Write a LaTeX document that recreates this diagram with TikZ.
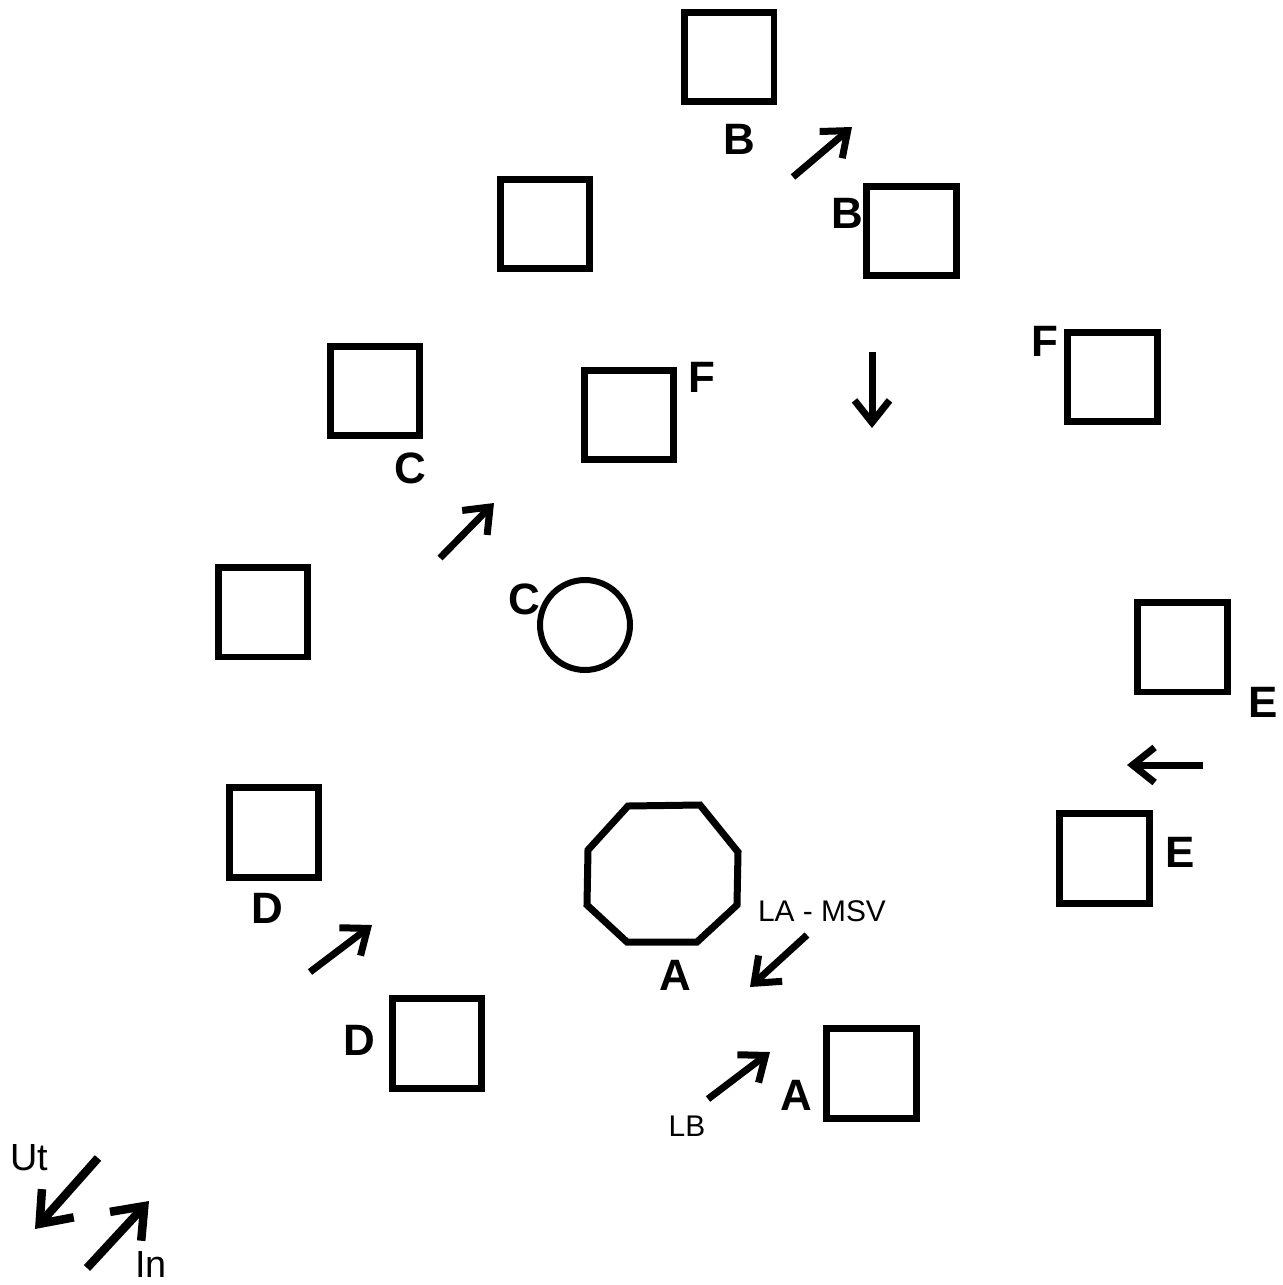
\documentclass[tikz,border=0pt]{standalone}
\usepackage{fontspec}
\setmainfont{Liberation Sans}
\usetikzlibrary{arrows.meta}
\begin{document}
\begin{tikzpicture}[x=0.02cm,y=-0.02cm,
  box/.style={draw=black,line width=0.14cm,minimum size=1.8cm,inner sep=0pt,fill=white},
  ring/.style={draw=black,line width=0.12cm,circle,minimum size=1.8cm,inner sep=0pt},
  lbl/.style={inner sep=0pt,font=\fontsize{25}{30}\selectfont\bfseries},
  small/.style={inner sep=0pt,font=\fontsize{17}{20}\selectfont},
  mid/.style={inner sep=0pt,font=\fontsize{21.5}{25}\selectfont},
  arr/.style={line width=0.14cm,-{Straight Barb[length=0.44cm,width=0.7cm,line cap=butt,line join=miter]}},
  bigarr/.style={line width=0.17cm,-{Straight Barb[length=0.55cm,width=0.85cm,line cap=butt,line join=miter]}}]
\useasboundingbox (0,0) rectangle (1282,1285);
% squares
\node[box] (s1) at (729,57) {};
\node[box] (s2) at (911,231) {};
\node[box] (s3) at (545,224) {};
\node[box] (s4) at (1112,377) {};
\node[box] (s5) at (629,415) {};
\node[box] (s6) at (375,391) {};
\node[box] (s7) at (263,612) {};
\node[box] (s8) at (1182,647) {};
\node[box] (s9) at (1104,858) {};
\node[box] (s10) at (274,832) {};
\node[box] (s11) at (437,1043) {};
\node[box] (s12) at (871,1073) {};
% circle
\node[ring] (circ) at (585,625) {};
% octagon
\draw[line width=0.14cm,line join=miter] (628,806) -- (700,805) -- (738,852) -- (737,905) -- (697,942) -- (627,942) -- (587,905) -- (588,850) -- cycle;
% labels
\node[lbl] (lB1) at (739,139) {B};
\node[lbl] (lB2) at (847,213) {B};
\node[lbl] (lF1) at (702,377) {F};
\node[lbl] (lF2) at (1045,341) {F};
\node[lbl] (lC1) at (410,468) {C};
\node[lbl] (lC2) at (524,599) {C};
\node[lbl] (lE1) at (1263,702) {E};
\node[lbl] (lE2) at (1180,852) {E};
\node[lbl] (lD1) at (267,908) {D};
\node[lbl] (lD2) at (359,1040) {D};
\node[lbl] (lA1) at (675,975) {A};
\node[lbl] (lA2) at (796,1095) {A};
\node[small] (lLA) at (822,911) {LA - MSV};
\node[small] (lLB) at (687,1126) {LB};
\node[mid] (lUt) at (29,1158) {Ut};
\node[mid] (lIn) at (151,1264) {In};
% arrow end points
\coordinate (aB0) at (793,177);   \coordinate (aB1) at (852,127);
\coordinate (aV0) at (872,352);   \coordinate (aV1) at (872,428);
\coordinate (aC0) at (440,558);   \coordinate (aC1) at (494,503);
\coordinate (aE0) at (1203,765);  \coordinate (aE1) at (1127,765);
\coordinate (aD0) at (310,972);   \coordinate (aD1) at (372,925);
\coordinate (aL0) at (807,935);   \coordinate (aL1) at (750,987);
\coordinate (aM0) at (708,1099);  \coordinate (aM1) at (770,1052);
\coordinate (aU0) at (98,1158);   \coordinate (aU1) at (35,1229);
\coordinate (aI0) at (87,1268);   \coordinate (aI1) at (149,1201);
\draw[arr] (aB0) -- (aB1);
\draw[arr] (aV0) -- (aV1);
\draw[arr] (aC0) -- (aC1);
\draw[arr] (aE0) -- (aE1);
\draw[arr] (aD0) -- (aD1);
\draw[arr] (aL0) -- (aL1);
\draw[arr] (aM0) -- (aM1);
\draw[bigarr] (aU0) -- (aU1);
\draw[bigarr] (aI0) -- (aI1);
\end{tikzpicture}
\end{document}
